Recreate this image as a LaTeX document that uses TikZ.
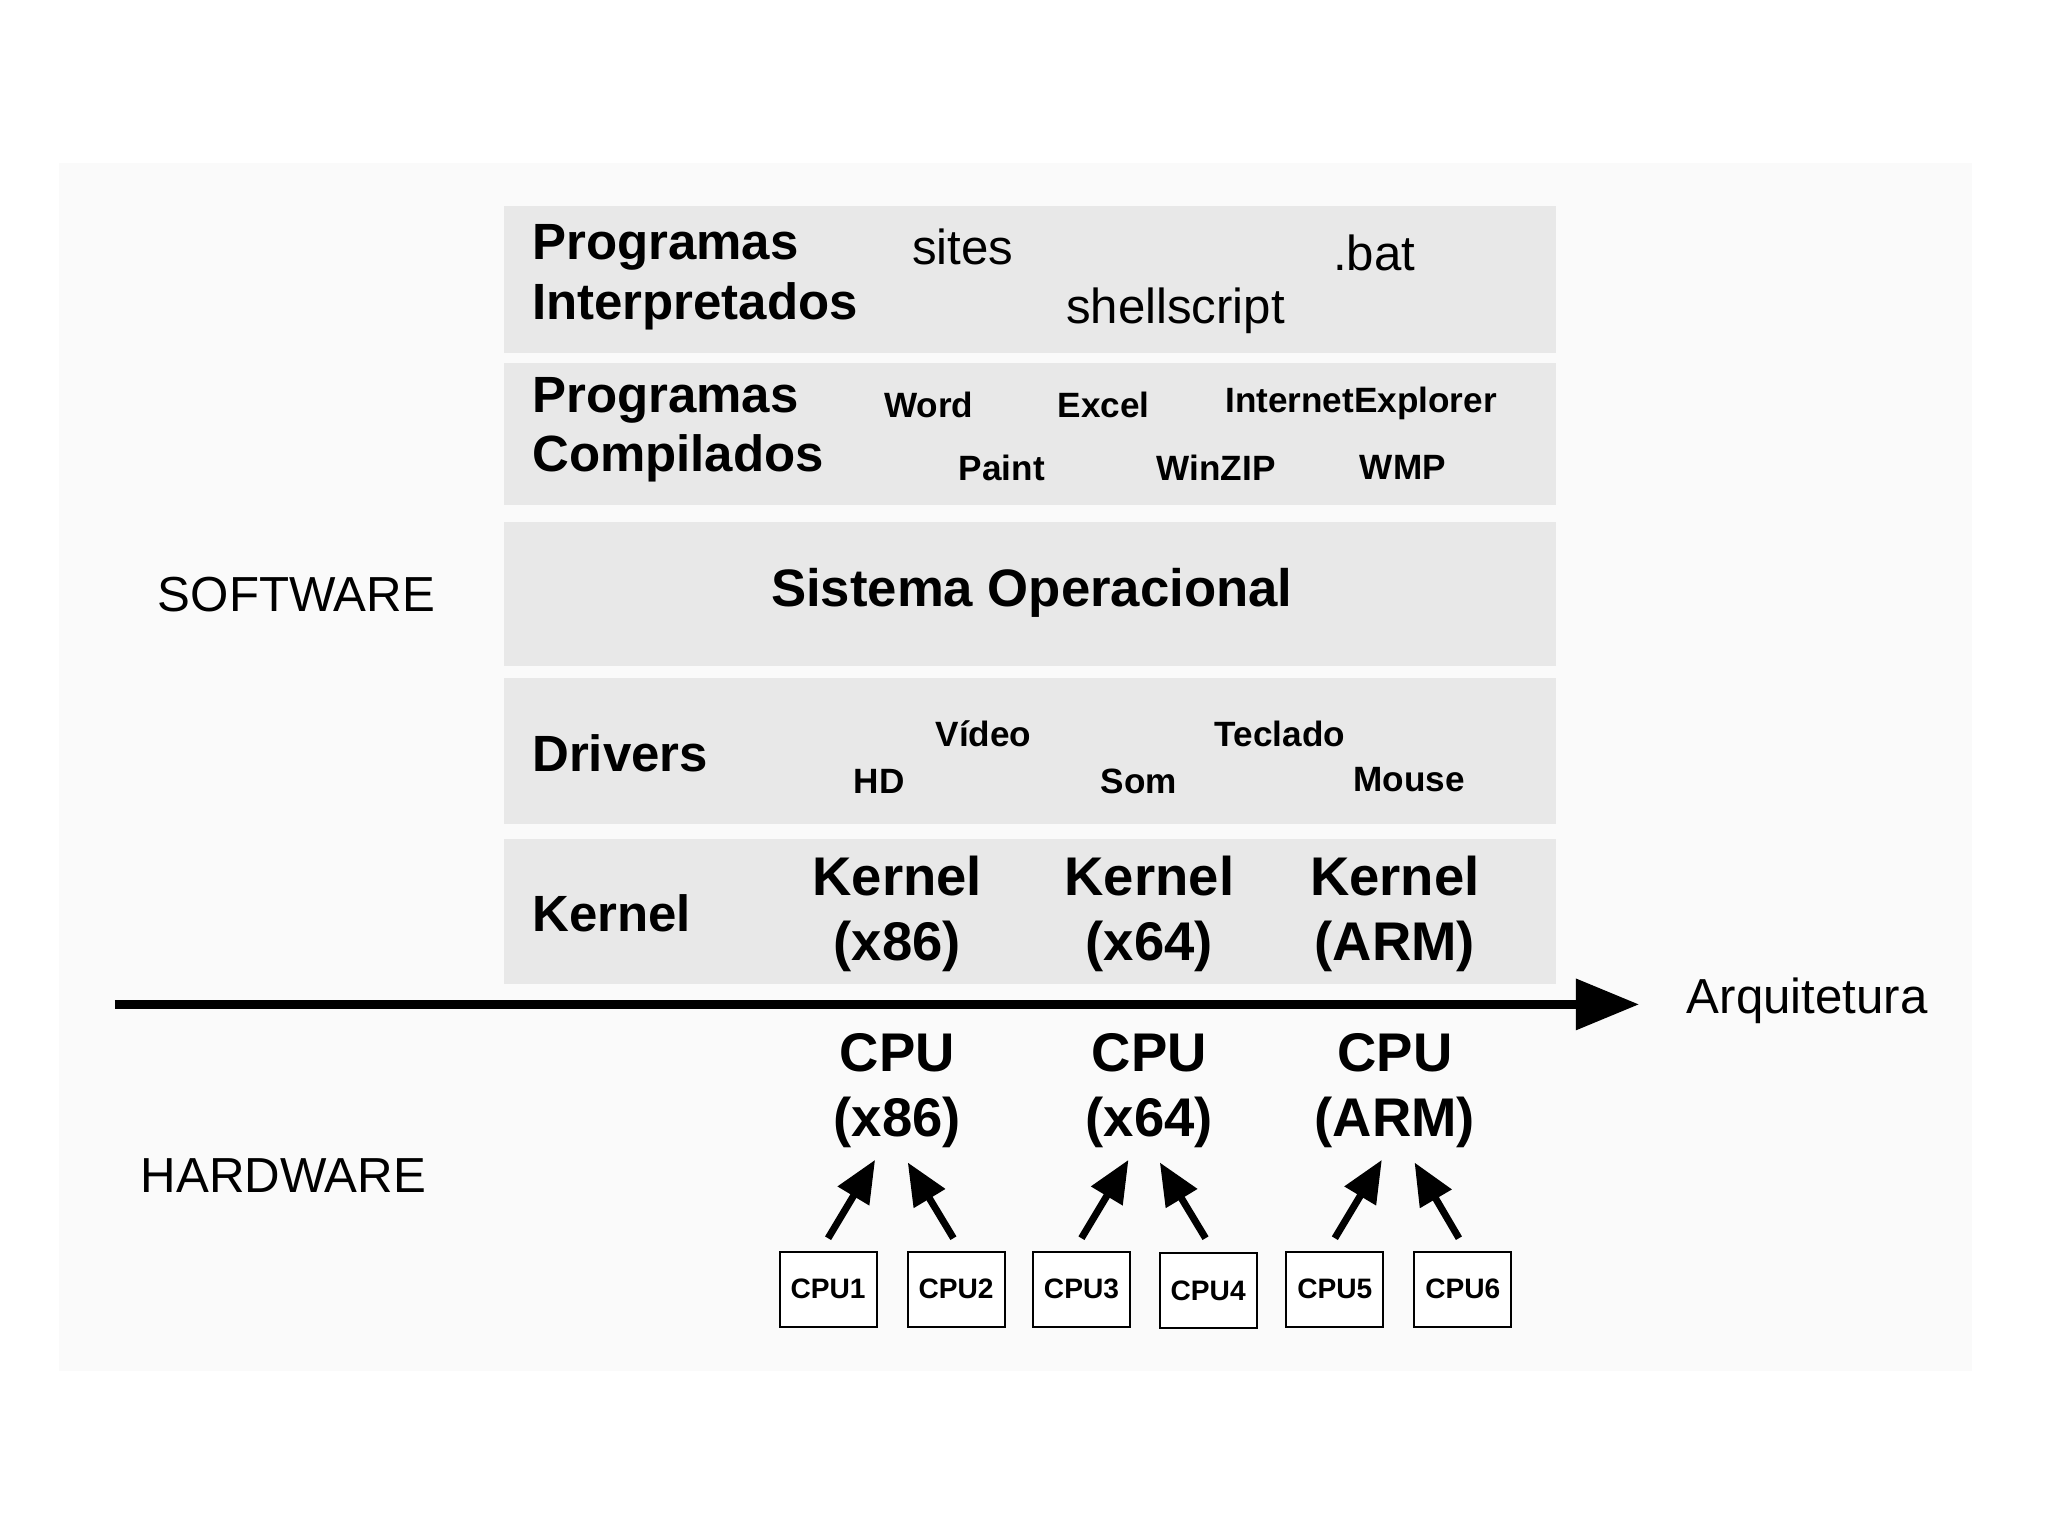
\documentclass[tikz,border=0pt]{standalone}
\usepackage{fontspec}
\setmainfont{Liberation Sans}
\usetikzlibrary{arrows.meta}
\begin{document}
\begin{tikzpicture}[x=0.01306cm,y=-0.01306cm,
  band/.style={fill=black!9,draw=none},
  big/.style={font=\fontsize{14.5}{17}\selectfont\bfseries,align=left,anchor=west},
  sm/.style={font=\fontsize{10}{12}\selectfont\bfseries},
  reg/.style={font=\fontsize{14}{17}\selectfont},
  kern/.style={font=\fontsize{15.5}{18.5}\selectfont\bfseries,align=center},
  cpubox/.style={draw,fill=white,minimum width=74\pgflinewidth,font=\fontsize{8}{10}\selectfont\bfseries,inner sep=0pt,line width=0.6pt},
  up/.style={line width=2pt,-{Triangle[length=12pt,width=10pt]}}]
\useasboundingbox (0,0) rectangle (1568,1176);
\fill[white] (0,0) rectangle (1568,1176);
\fill[black!2] (45,125) rectangle (1510,1050);
\fill[band] (386,158) rectangle (1191,270);
\fill[band] (386,278) rectangle (1191,387);
\fill[band] (386,400) rectangle (1191,510);
\fill[band] (386,519) rectangle (1191,631);
\fill[band] (386,642) rectangle (1191,753);
\node[big] (pi) at (398,212) {Programas\\Interpretados};
\node[reg] (sites) at (737,189) {sites};
\node[reg] (bat) at (1052,194) {.bat};
\node[reg] (sh) at (900,238) {shellscript};
\node[big] (pc) at (398,329) {Programas\\Compilados};
\node[sm] (w) at (711,310) {Word};
\node[sm] (ex) at (845,310) {Excel};
\node[sm] (ie) at (1042,309) {InternetExplorer};
\node[sm] (pa) at (767,358) {Paint};
\node[sm] (wz) at (931,358) {WinZIP};
\node[sm] (wm) at (1074,358) {WMP};
\node[font=\fontsize{15}{18}\selectfont\bfseries] (so) at (790,454) {Sistema Operacional};
\node[big] (dr) at (398,577) {Drivers};
\node[sm] (vi) at (753,562) {Vídeo};
\node[sm] (te) at (980,562) {Teclado};
\node[sm] (hd) at (673,598) {HD};
\node[sm] (som) at (872,598) {Som};
\node[sm] (mo) at (1079,597) {Mouse};
\node[big] (ke) at (398,699) {Kernel};
\node[kern] (k1) at (687,700) {Kernel\\(x86)};
\node[kern] (k2) at (880,700) {Kernel\\(x64)};
\node[kern] (k3) at (1068,700) {Kernel\\(ARM)};
\node[reg] (sw) at (227,455) {SOFTWARE};
\node[reg] (hw) at (217,900) {HARDWARE};
\coordinate (a0) at (88,769);
\node[reg,anchor=west] (arq) at (1282,766) {Arquitetura};
\draw[line width=2.6pt,-{Triangle[length=18pt,width=14pt]}] (a0) -- (1255,769);
\node[kern] (c1) at (687,835) {CPU\\(x86)};
\node[kern] (c2) at (880,835) {CPU\\(x64)};
\node[kern] (c3) at (1068,835) {CPU\\(ARM)};
\foreach \n/\x/\y in {1/634/987,2/732/987,3/828/987,4/925/988,5/1022/987,6/1120/987}{
  \node[draw,fill=white,line width=0.6pt,minimum width=74\pgflinewidth,minimum height=57\pgflinewidth,inner sep=0pt,font=\fontsize{8}{10}\selectfont\bfseries,text width=0.92cm,align=center,minimum width=0.97cm,minimum height=0.75cm] (b\n) at (\x,\y) {CPU\n};}
\coordinate (t1) at (670,888); \coordinate (t2) at (695,890);
\coordinate (t3) at (864,888); \coordinate (t4) at (888,890);
\coordinate (t5) at (1058,888); \coordinate (t6) at (1083,890);
\draw[up] (634,948) -- (t1);
\draw[up] (730,948) -- (t2);
\draw[up] (828,948) -- (t3);
\draw[up] (923,948) -- (t4);
\draw[up] (1022,948) -- (t5);
\draw[up] (1117,948) -- (t6);
\end{tikzpicture}
\end{document}
